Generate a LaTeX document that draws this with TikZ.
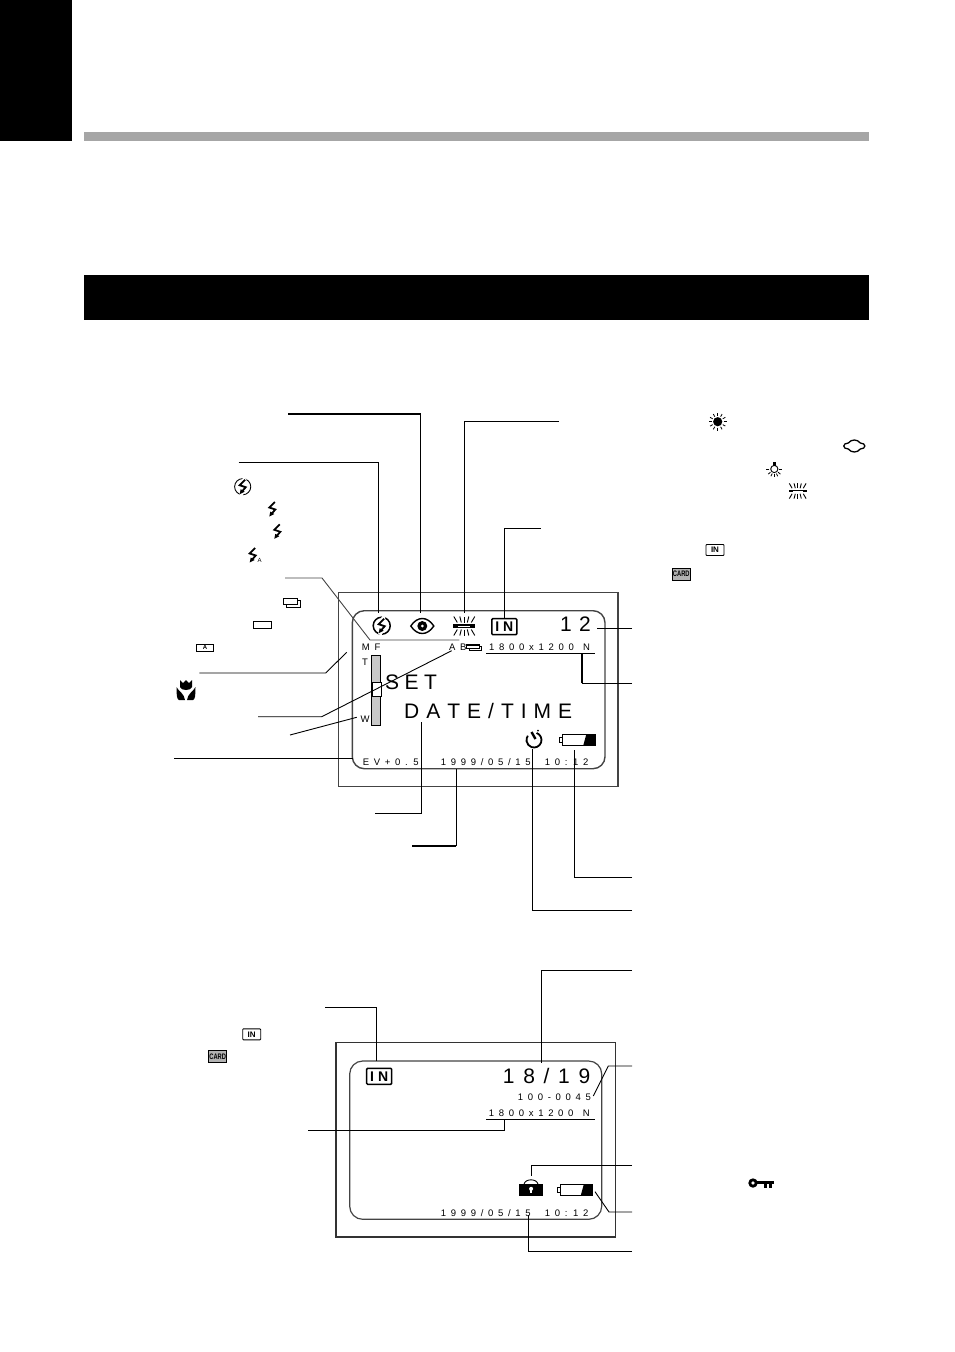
\documentclass[tikz,border=0pt]{standalone}
\usepackage{fontspec}
\setmainfont{Liberation Sans}
\newfontfamily\cardfont[FakeStretch=0.72]{Liberation Sans}
\definecolor{framegray}{HTML}{444444}
\definecolor{bargray}{HTML}{A6A6A6}
\definecolor{zoomgray}{HTML}{C8C8C8}
\newcommand{\lcdbigfont}[1]{\fontsize{21}{21}\selectfont\spaceskip #1pt\relax}
\newcommand{\lcdsmallfont}{\fontsize{9.5}{9.5}\selectfont\spaceskip 4.7pt\relax}
\newcommand{\inbigfont}{\fontsize{14}{14}\selectfont\bfseries\spaceskip 4pt\relax}
\tikzset{
    lcdbig/.style={anchor=west, inner sep=0pt, text height=15pt, text depth=0pt, font=\lcdbigfont{#1}},
    lcdsmall/.style={anchor=west, inner sep=0pt, text height=7pt, text depth=0pt, font=\lcdsmallfont},
    leader/.style={draw, line width=.9pt},
    heavyleader/.style={draw, line width=1.6pt},
    inbig/.style={draw, line width=1.5pt, rounded corners=1pt, minimum width=25pt, minimum height=16pt, inner sep=0pt, font=\inbigfont},
    insmall/.style={draw, line width=.9pt, rounded corners=.8pt, minimum width=18pt, minimum height=11pt, inner sep=0pt, font=\fontsize{8}{8}\selectfont\bfseries},
    cardsmall/.style={draw, line width=.9pt, fill=black!30, minimum width=18pt, minimum height=12pt, inner sep=0pt, font=\cardfont\bfseries\fontsize{8}{8}\selectfont},
    tinybox/.style={draw, line width=.9pt, minimum width=#1, minimum height=7.5pt, inner sep=0pt, font=\fontsize{6}{6}\selectfont\bfseries},
    pics/bolt/.style={code={
        \draw[line width=1.8pt] (2.5,-7) -- (-3,-1.5) -- (3,.5) -- (-.5,4.5);
        \fill (-3,7.5) -- (-2,2.5) -- (2,5) -- cycle;
    }},
    pics/flashoff/.style={code={
        \draw[line width=#1] (0,0) circle[radius=8.5];
        \draw[white, line width=3.6pt] (2.5,-9) -- (-3,-1.5) -- (3,.5) -- (-2,9);
        \pic {bolt};
    }},
    pics/eyeicon/.style={code={
        \draw[line width=1.4pt] (-11.5,0) .. controls (-5,-10) and (5,-10) .. (11.5,0) .. controls (5,10) and (-5,10) .. (-11.5,0) -- cycle;
        \fill (0,0) circle[radius=5];
        \fill[white] (0,0) circle[radius=1.5];
    }},
    pics/fluoro/.style={code={
        \fill (-11,-1.7) rectangle (11,1.7);
        \fill[white] (-6,-.4) rectangle (6,.4);
        \foreach \x/\z in {-7/-10.5,-3/-4.5,0/0,3/4.5,7/10.5} {
            \draw[line width=.9pt] (\x,-3.5) -- (\z,-9.5);
            \draw[line width=.9pt] (\x,3.5) -- (\z,9.5);
        }
    }},
    pics/sunicon/.style={code={
        \fill (0,0) circle[radius=4.6];
        \foreach \a in {0,30,...,330} \draw[line width=.8pt] (\a:5.8) -- (\a:8.8);
    }},
    pics/bulbicon/.style={code={
        \draw[line width=.9pt] (0,0) circle[radius=3.6];
        \fill (-1.3,-7.5) rectangle (1.3,-3);
        \foreach \a in {0,40,65,90,115,140,180} \draw[line width=.8pt] (\a:5) -- (\a:8);
    }},
    pics/cloudicon/.style={code={
        \draw[line width=1.3pt] (-6,-3) .. controls (-3,-7) and (3,-7) .. (6,-3) .. controls (12,-3) and (12,3) .. (6,3) .. controls (3,7) and (-3,7) .. (-6,3) .. controls (-12,3) and (-12,-3) .. (-6,-3) -- cycle;
    }},
    pics/tulip/.style={code={
        \fill (-6,-10) -- (-3,-7) -- (0,-10) -- (3,-7) -- (6,-10) -- (6,-3) .. controls (5,1) and (-5,1) .. (-6,-3) -- cycle;
        \fill (-9.5,-3) .. controls (-7,2) and (-2,3) .. (-1,10) -- (-7,10) .. controls (-9,9) and (-9.5,6) .. (-9.5,-3) -- cycle;
        \fill (9.5,-3) .. controls (7,2) and (2,3) .. (1,10) -- (7,10) .. controls (9,9) and (9.5,6) .. (9.5,-3) -- cycle;
    }},
    pics/stacked/.style={code={
        \draw[line width=#1, fill=white] (3,2.5) rectangle (17,9);
        \draw[line width=#1, fill=white] (0,0) rectangle (14,6);
    }},
    pics/timer/.style={code={
        \draw[line width=1.8pt] (-70:7.5) arc[start angle=-70, end angle=215, radius=7.5];
        \draw[line width=2.4pt] (-2.5,-8) -- (1.5,-1);
        \fill (4,-9.5) circle[radius=1];
    }},
    pics/battery/.style={code={
        \draw[line width=1.1pt] (3.5,0) rectangle (36,11);
        \draw[line width=1.1pt] (.5,3) rectangle (3.5,8);
        \fill (24,11) -- (27,0) -- (36,0) -- (36,11) -- cycle;
    }},
    pics/lock/.style={code={
        \fill (0,5) rectangle (24.3,16.5);
        \draw[line width=.9pt] (5,5) .. controls (6,-1) and (18,-1) .. (19,5);
        \fill[white] (12.1,9.5) circle[radius=2];
        \fill[white] (11.2,9.5) rectangle (13,14);
    }},
    pics/keyicon/.style={code={
        \draw[line width=2.8pt] (5,5) circle[radius=3.2];
        \fill (9,3.3) rectangle (26,6.3);
        \fill (16,6) rectangle (18.5,10);
        \fill (21,6) rectangle (23.5,10);
    }},
}

\begin{document}
\begin{tikzpicture}[x=1pt, y=-1pt]
    \useasboundingbox (0,0) rectangle (954,1352);
    \fill (0,0) rectangle (72,141);
    \fill[bargray] (84,132) rectangle (869,141);
    \fill (84,275) rectangle (869,320);

    \draw[framegray, line width=1.5pt] (338.7,592.7) rectangle (618,786.7);
    \draw[framegray, line width=1.4pt, rounded corners=12pt] (352.3,610.7) rectangle (605,768.7);

    \coordinate (flashtop) at (381.7,625.7);
    \coordinate (eyetop) at (422.3,626);
    \coordinate (fluorotop) at (464.3,626);
    \pic at (flashtop) {flashoff={1.5pt}};
    \pic at (eyetop) {eyeicon};
    \pic at (fluorotop) {fluoro};
    \node[inbig] (inA) at (504.3,626.7) {I N};
    \node[lcdbig=7.3] (countA) at (560,624) {1 2};
    \node[lcdsmall] (mfA) at (361.7,647.3) {M F};
    \node[lcdsmall] (abA) at (449,647.3) {A B};
    \pic[xscale=.9, yscale=.6] at (466.5,645) {stacked={1.2pt}};
    \node[lcdsmall] (sizeA) at (489,647.3) {1 8 0 0 x 1 2 0 0~~N};
    \coordinate (sizeAl) at (486,653.7);
    \coordinate (sizeAr) at (595,653.7);
    \draw[leader] (sizeAl) -- (sizeAr);
    \node[lcdsmall] (teleA) at (362,661.7) {T};
    \node[lcdsmall] (wideA) at (360.5,719.3) {W};
    \draw[line width=.8pt, fill=zoomgray] (371.7,655.3) rectangle (380.7,725.7);
    \draw[line width=1pt, fill=white] (372,682.3) rectangle (381,696.7);
    \node[lcdbig=5.5] (setA) at (385,681.7) {S E T};
    \node[lcdbig=7] (dateA) at (404,710.7) {D A T E / T I M E};
    \pic at (534,740) {timer};
    \pic at (559.3,734.3) {battery};
    \node[lcdsmall] (evA) at (362.7,761.7) {E V + 0 . 5};
    \node[lcdsmall] (stampA) at (440.7,761.7) {1 9 9 9 / 0 5 / 1 5~~~1 0 : 1 2};

    \coordinate (flashfree) at (238.7,462);
    \coordinate (flashend) at (378.7,613);
    \draw[leader] (flashfree) -| (flashend);
    \coordinate (eyefree) at (288,414);
    \coordinate (eyecorner) at (420.7,414);
    \coordinate (eyeend) at (420.7,613);
    \draw[heavyleader] (eyefree) -- (eyecorner);
    \draw[leader] (eyecorner) -- (eyeend);
    \coordinate (fluorofree) at (559,421);
    \coordinate (fluoroend) at (464.3,613);
    \draw[leader] (fluorofree) -| (fluoroend);
    \coordinate (infree) at (540.7,528);
    \draw[leader] (infree) -| (inA.north);
    \coordinate (drivefree) at (285,578);
    \coordinate (drivea) at (322,578);
    \coordinate (driveb) at (370,640);
    \coordinate (drivec) at (459.3,640);
    \draw[leader, framegray] (drivefree) -- (drivea) -- (driveb) -- (drivec);
    \coordinate (macrofree) at (199.3,673);
    \coordinate (macroa) at (325.7,673);
    \coordinate (macroend) at (346.7,652.3);
    \draw[leader] (macrofree) -- (macroa) -- (macroend);
    \coordinate (abfree) at (258,716.7);
    \coordinate (aba) at (321.7,716.7);
    \coordinate (abend) at (451.7,650.7);
    \draw[leader] (abfree) -- (aba) -- (abend);
    \coordinate (widefree) at (290,735);
    \coordinate (wideend) at (356.7,717.3);
    \draw[leader] (widefree) -- (wideend);
    \coordinate (evfree) at (174,758.3);
    \coordinate (evend) at (352.7,758.3);
    \draw[leader] (evfree) -- (evend);
    \coordinate (countfree) at (632,628.3);
    \coordinate (countend) at (597.3,628.3);
    \draw[leader] (countfree) -- (countend);
    \coordinate (sizefree) at (632,683.3);
    \coordinate (sizecorner) at (582,683.3);
    \coordinate (sizeend) at (582,654);
    \draw[leader] (sizefree) -- (sizecorner);
    \draw[heavyleader] (sizecorner) -- (sizeend);
    \coordinate (datefree) at (375,813);
    \coordinate (dateend) at (421.3,722.3);
    \draw[leader] (datefree) -| (dateend);
    \coordinate (stampfree) at (412,846);
    \coordinate (stampcorner) at (456.3,846);
    \coordinate (stampend) at (456.3,768.7);
    \draw[heavyleader] (stampfree) -- (stampcorner);
    \draw[leader] (stampcorner) -- (stampend);
    \coordinate (timerfree) at (632,910);
    \coordinate (timerend) at (532.6,749);
    \draw[leader] (timerfree) -| (timerend);
    \coordinate (battfree) at (632,877);
    \coordinate (battend) at (574.6,750);
    \draw[leader] (battfree) -| (battend);

    \pic[scale=.95] at (242.7,486.7) {flashoff={.9pt}};
    \pic at (272.3,509) {bolt};
    \pic at (277.3,531.3) {bolt};
    \pic at (252.7,555) {bolt};
    \node[inner sep=0pt, font=\fontsize{6}{6}\selectfont] (autosmall) at (259.5,560) {A};
    \pic at (283.3,598) {stacked={1pt}};
    \node[tinybox=18.4pt] (singlebox) at (262.5,625) {};
    \node[tinybox=17.4pt] (autobox) at (205,647.7) {A};
    \pic at (186,690) {tulip};

    \pic at (717.7,421.7) {sunicon};
    \pic at (854.3,446) {cloudicon};
    \pic at (774.3,469) {bulbicon};
    \pic[scale=.8] at (797.7,491) {fluoro};
    \node[insmall] (inlist) at (715,550) {IN};
    \node[cardsmall] (cardlist) at (681.3,574) {CARD};

    \draw[black!80, line width=1.2pt] (336,1042.7) rectangle (615.7,1237);
    \draw[framegray, line width=1.2pt, rounded corners=13pt] (349.7,1061) rectangle (601.7,1219.3);
    \node[inbig] (inB) at (379.2,1076.3) {I N};
    \node[lcdbig=8.7] (countB) at (502.7,1075.7) {1 8 / 1 9};
    \node[lcdsmall] (fileB) at (517.7,1097.3) {1 0 0 - 0 0 4 5};
    \node[lcdsmall] (sizeB) at (488.7,1112.7) {1 8 0 0 x 1 2 0 0~~N};
    \coordinate (sizeBl) at (486,1119.3);
    \coordinate (sizeBr) at (594.7,1119.3);
    \draw[leader] (sizeBl) -- (sizeBr);
    \pic at (519,1179.3) {lock};
    \pic at (556.7,1184.7) {battery};
    \node[lcdsmall] (stampB) at (440.7,1212.7) {1 9 9 9 / 0 5 / 1 5~~~1 0 : 1 2};

    \coordinate (inBfree) at (325,1007.3);
    \coordinate (inBend) at (376,1061);
    \draw[leader] (inBfree) -| (inBend);
    \coordinate (countBfree) at (632,970);
    \coordinate (countBend) at (541.7,1063);
    \draw[leader] (countBfree) -| (countBend);
    \coordinate (fileBfree) at (632,1066);
    \coordinate (fileBa) at (608.3,1066);
    \coordinate (fileBend) at (593.3,1096);
    \draw[leader] (fileBfree) -- (fileBa) -- (fileBend);
    \coordinate (sizeBfree) at (308.3,1130.3);
    \coordinate (sizeBend) at (504.7,1119.3);
    \draw[leader] (sizeBfree) -| (sizeBend);
    \coordinate (lockfree) at (632,1165.3);
    \coordinate (lockend) at (531.7,1176);
    \draw[leader] (lockfree) -| (lockend);
    \coordinate (battBfree) at (632,1212);
    \coordinate (battBa) at (609,1212);
    \coordinate (battBend) at (595,1191.7);
    \draw[leader] (battBfree) -- (battBa) -- (battBend);
    \coordinate (stampBfree) at (632,1251.3);
    \coordinate (stampBend) at (528,1215);
    \draw[leader] (stampBfree) -| (stampBend);

    \node[insmall] (inlistB) at (251.7,1034.3) {IN};
    \node[cardsmall] (cardlistB) at (217.7,1056.7) {CARD};
    \pic at (748,1178) {keyicon};
\end{tikzpicture}
\end{document}
